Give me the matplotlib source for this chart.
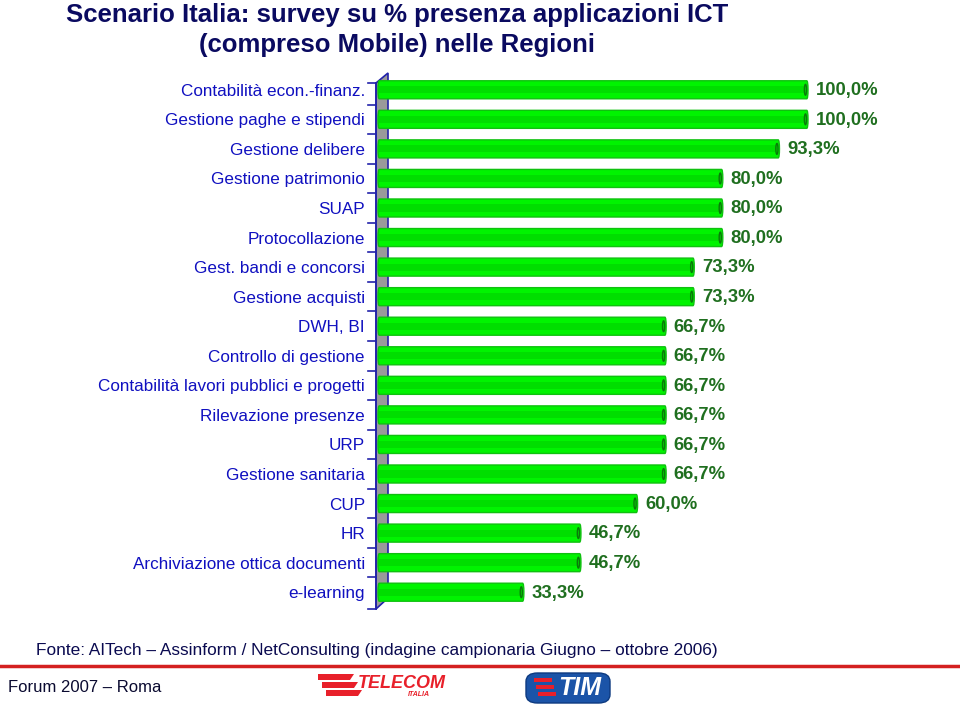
import matplotlib.pyplot as plt
from matplotlib.patches import Polygon, Ellipse, FancyBboxPatch, Rectangle

# --- Data (top to bottom as in the chart) ---
CATEGORIES = [
    "Contabilità econ.-finanz.",
    "Gestione paghe e stipendi",
    "Gestione delibere",
    "Gestione patrimonio",
    "SUAP",
    "Protocollazione",
    "Gest. bandi e concorsi",
    "Gestione acquisti",
    "DWH, BI",
    "Controllo di gestione",
    "Contabilità lavori pubblici e progetti",
    "Rilevazione presenze",
    "URP",
    "Gestione sanitaria",
    "CUP",
    "HR",
    "Archiviazione ottica documenti",
    "e-learning",
]
VALUES = [100.0, 100.0, 93.3, 80.0, 80.0, 80.0, 73.3, 73.3, 66.7, 66.7,
          66.7, 66.7, 66.7, 66.7, 60.0, 46.7, 46.7, 33.3]

TITLE = "Scenario Italia: survey su % presenza applicazioni ICT\n(compreso Mobile) nelle Regioni"
SOURCE = "Fonte: AITech \u2013 Assinform / NetConsulting (indagine campionaria Giugno \u2013 ottobre 2006)"
FOOTER = "Forum 2007 \u2013 Roma"

plt.rcParams['font.family'] = ['Liberation Sans', 'DejaVu Sans']

W, H = 960, 708
fig = plt.figure(figsize=(W / 100, H / 100), dpi=100)

# axes: x=0 at 382px, x=100 at 808px; rows between 75px and 607px
ax = fig.add_axes([382 / W, 1 - 607 / H, 426 / W, 532 / H])
n = len(CATEGORIES)
ys = list(range(n))
ax.set_xlim(0, 100)
ax.set_ylim(n - 0.5, -0.5)
ax.axis('off')

px = 100 / 426.0  # data units per pixel (x)
py = n / 532.0    # data units per pixel (y)

# grey 3D wall
x_left = (376 - 382) * px
x_right = (388 - 382) * px
wall = Polygon([(x_left, -0.5 + 8 * py), (x_right, -0.5 - 2 * py),
                (x_right, n - 0.5 - 9 * py), (x_left, n - 0.5 + 2 * py)],
               closed=True, facecolor='#9a9a9a', edgecolor='#2222aa',
               linewidth=1.2, clip_on=False, zorder=1)
ax.add_patch(wall)
ax.plot([x_left, x_left], [-0.5 + 8 * py, n - 0.5 + 2 * py], color='#2222aa',
        lw=1.2, clip_on=False, zorder=2)
# tick marks at category boundaries
for k in range(n + 1):
    yb = k - 0.5 + 2 * py if k == n else k - 0.5 + (8 * py if k == 0 else 0)
    ax.plot([x_left - 8 * px, x_left], [yb, yb], color='#2222aa', lw=1.2,
            clip_on=False, zorder=2)

# cylinder-like bars
bh = 0.61
start = (378 - 382) * px
for y, v in zip(ys, VALUES):
    ax.add_patch(FancyBboxPatch((start, y - bh / 2), v - start, bh,
                                boxstyle="round,pad=0,rounding_size=0.3",
                                facecolor='#00f400', edgecolor='#10c010',
                                linewidth=1.0, clip_on=False, zorder=3))
    ax.add_patch(Rectangle((start + 0.3, y - 0.12), v - start - 0.8, 0.24,
                           facecolor='#00de00', edgecolor='none',
                           clip_on=False, zorder=4))
    ax.add_patch(Ellipse((v - 0.6, y), 0.5, bh * 0.6, facecolor='none',
                         edgecolor='#0a7a0a', linewidth=1.0, clip_on=False,
                         zorder=5))
    ax.text(v + 1.8, y + 0.03, f"{v:.1f}%".replace('.', ','), va='center',
            ha='left', fontsize=13.3, color='#1f6f1f', fontweight='bold',
            clip_on=False)
    ax.text(x_left - 11 * px, y + 0.05, CATEGORIES[y], va='center', ha='right',
            fontsize=12.3, color='#1010c0', clip_on=False)

# title
fig.text(397 / W, 1 - 30 / H, TITLE, ha='center', va='center', fontsize=18.5,
         fontweight='bold', color='#0a0a60', linespacing=1.3)

# source and footer
fig.text(36 / W, 1 - 651 / H, SOURCE, ha='left', va='center', fontsize=12.4,
         color='#0a0a50')
fig.add_artist(plt.Line2D([0, 1], [1 - 666 / H, 1 - 666 / H],
                          color='#d42020', lw=2.5, transform=fig.transFigure))
fig.text(8 / W, 1 - 688 / H, FOOTER, ha='left', va='center', fontsize=12,
         color='#0a0a30')

# simplified logos
for i in range(3):
    fig.add_artist(Polygon([[(318 + 4 * i) / W, 1 - (674 + 8 * i) / H],
                            [(354 + 4 * i) / W, 1 - (674 + 8 * i) / H],
                            [(350 + 4 * i) / W, 1 - (680 + 8 * i) / H],
                            [(318 + 4 * i) / W, 1 - (680 + 8 * i) / H]],
                           closed=True, facecolor='#e8202a', edgecolor='none',
                           transform=fig.transFigure))
fig.text(358 / W, 1 - 683 / H, "TELECOM", ha='left', va='center', fontsize=13,
         fontweight='bold', style='italic', color='#e8202a')
fig.text(408 / W, 1 - 694 / H, "ITALIA", ha='left', va='center', fontsize=5,
         fontweight='bold', style='italic', color='#e8202a')
fig.add_artist(FancyBboxPatch((526 / W, 1 - 703 / H), 84 / W, 30 / H,
                              boxstyle="round,pad=0,rounding_size=0.012",
                              facecolor='#1b54a8', edgecolor='#0d3a80',
                              transform=fig.transFigure))
for i in range(3):
    fig.add_artist(Rectangle(((534 + 2 * i) / W, 1 - (682 + 7 * i) / H), 18 / W, 4 / H,
                             facecolor='#e8202a', edgecolor='none',
                             transform=fig.transFigure))
fig.text(580 / W, 1 - 688 / H, "TIM", ha='center', va='center', fontsize=18,
         fontweight='bold', style='italic', color='white')

fig.savefig("out.png", dpi=100)
